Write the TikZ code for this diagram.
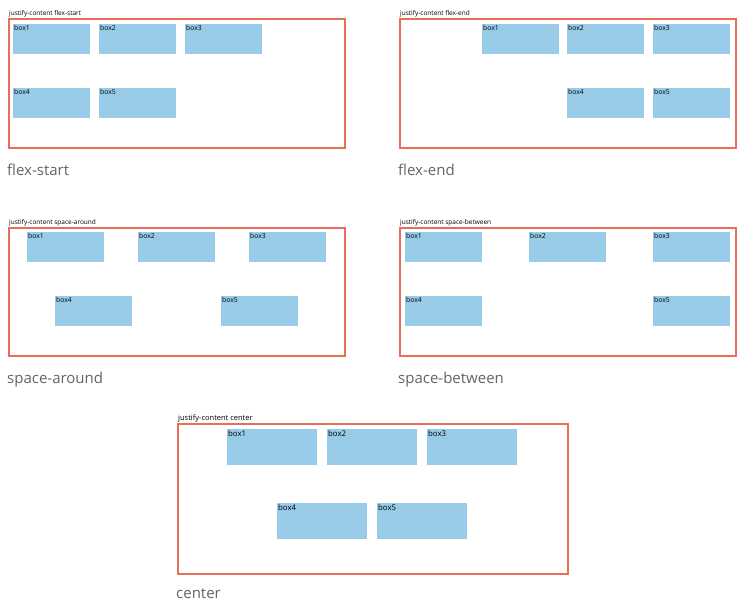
\documentclass[tikz,border=0pt]{standalone}
\usepackage{fontspec}
\setmainfont{Open Sans}
\usetikzlibrary{positioning}
\definecolor{framered}{RGB}{232,110,88}
\definecolor{itemblue}{RGB}{151,203,232}
\definecolor{capgray}{RGB}{100,100,100}

\begin{document}
\begin{tikzpicture}[
  x=1pt, y=-1pt,
  frame/.style={draw=framered, line width=1.6pt, anchor=north west, inner sep=0pt},
  item/.style={fill=itemblue, anchor=north west, inner sep=1pt, align=left, text width=#1,
    text height=5pt, text depth=23pt, font=\fontsize{6.8}{7}\selectfont},
  item/.default=75pt,
  bigitem/.style={item=87.5pt, text height=6pt, text depth=28pt, font=\fontsize{7.8}{8}\selectfont},
  title/.style={anchor=south west, inner sep=1pt, font=\fontsize{6.5}{7}\selectfont},
  caption/.style={inner sep=0pt, text=capgray, font=\fontsize{15}{18}\selectfont},
  ]
\useasboundingbox (0,0) rectangle (750,613);
% flex-start
\node[frame, minimum width=336pt, minimum height=129pt] (fs) at (8,18) {};
\node[title] (fst) at (fs.north west) {justify-content flex-start};
\node[item] (fs1) at (13,24) {box1};
\node[item] (fs2) at (99,24) {box2};
\node[item] (fs3) at (185,24) {box3};
\node[item] (fs4) at (13,88) {box4};
\node[item] (fs5) at (99,88) {box5};
\node[caption, below right=15pt and -1pt of fs.south west] (fsc) {flex-start};
% flex-end
\node[frame, minimum width=336pt, minimum height=129pt] (fe) at (399,18) {};
\node[title] (fet) at (fe.north west) {justify-content flex-end};
\node[item] (fe1) at (482,24) {box1};
\node[item] (fe2) at (567,24) {box2};
\node[item] (fe3) at (653,24) {box3};
\node[item] (fe4) at (567,88) {box4};
\node[item] (fe5) at (653,88) {box5};
\node[caption, below right=15pt and -1pt of fe.south west] (fec) {flex-end};
% space-around
\node[frame, minimum width=336pt, minimum height=128pt] (sa) at (8,227) {};
\node[title] (sat) at (sa.north west) {justify-content space-around};
\node[item] (sa1) at (27,232) {box1};
\node[item] (sa2) at (138,232) {box2};
\node[item] (sa3) at (249,232) {box3};
\node[item] (sa4) at (55,296) {box4};
\node[item] (sa5) at (221,296) {box5};
\node[caption, below right=15pt and -1pt of sa.south west] (sac) {space-around};
% space-between
\node[frame, minimum width=336pt, minimum height=128pt] (sb) at (399,227) {};
\node[title] (sbt) at (sb.north west) {justify-content space-between};
\node[item] (sb1) at (405,232) {box1};
\node[item] (sb2) at (529,232) {box2};
\node[item] (sb3) at (653,232) {box3};
\node[item] (sb4) at (405,296) {box4};
\node[item] (sb5) at (653,296) {box5};
\node[caption, below right=15pt and -1pt of sb.south west] (sbc) {space-between};
% center
\node[frame, minimum width=390pt, minimum height=150pt] (ce) at (177,423) {};
\node[title, font=\fontsize{7.5}{8}\selectfont] (cet) at (ce.north west) {justify-content center};
\node[bigitem] (ce1) at (227,429) {box1};
\node[bigitem] (ce2) at (327,429) {box2};
\node[bigitem] (ce3) at (427,429) {box3};
\node[bigitem] (ce4) at (277,503) {box4};
\node[bigitem] (ce5) at (377,503) {box5};
\node[caption, below right=14pt and -1pt of ce.south west] (cec) {center};
\end{tikzpicture}
\end{document}
